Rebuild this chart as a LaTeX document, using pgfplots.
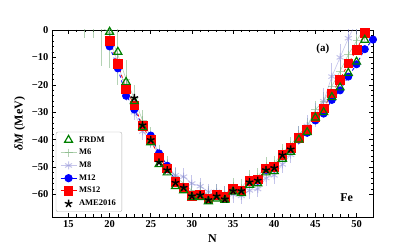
\documentclass[border=0pt]{standalone}
\usepackage{fontspec}
\setmainfont{Liberation Serif}
\usepackage{pgfplots}
\pgfplotsset{compat=1.18}
\definecolor{frdm}{RGB}{0,128,0}
\definecolor{msix}{RGB}{120,175,120}
\definecolor{meight}{RGB}{140,140,215}
\definecolor{mtw}{RGB}{0,0,255}
\definecolor{mstw}{RGB}{255,0,0}
\begin{document}
\begin{tikzpicture}
\begin{axis}[
  width=321pt, height=187pt, scale only axis,
  xmin=13, xmax=52, ymin=-68.2, ymax=0,
  xtick={15,20,...,50}, minor x tick num=4,
  ytick={-60,-50,-40,-30,-20,-10,0},
  yticklabels={−60,−50,−40,−30,−20,−10,0},
  minor y tick num=4,
  tick align=inside, major tick length=4pt, minor tick length=2.5pt,
  tick style={black, line width=0.6pt},
  axis line style={line width=0.8pt},
  /pgf/number format/assume math mode=true,
  ticklabel style={font=\bfseries\fontsize{10.5}{11}\selectfont},
  xlabel={N}, ylabel={\textit{δM} (MeV)},
  label style={font=\bfseries\fontsize{12}{12}\selectfont},
  legend style={at={(0.012,0.027)}, anchor=south west, draw=gray!60, rounded corners=2pt,
    font=\bfseries\fontsize{8.5}{10}\selectfont, row sep=1.6pt, inner xsep=4pt, inner ysep=2.5pt},
  legend cell align=left,
  legend image code/.code={\draw[mark repeat=2,mark phase=2,#1] plot coordinates {(0pt,0pt) (8pt,0pt) (16pt,0pt)};},
]
\addlegendimage{only marks, frdm, mark=triangle, mark size=4.6pt, mark options={line width=1.2pt}}
\addlegendentry{FRDM}
\addlegendimage{msix, opacity=0.55, line width=1pt, mark=+, mark size=4pt, mark options={line width=1pt}}
\addlegendentry{M6}
\addlegendimage{meight, opacity=0.5, line width=1pt, mark=asterisk, mark size=4pt, mark options={line width=1pt}}
\addlegendentry{M8}
\addlegendimage{mtw, line width=1pt, mark=*, mark size=3.6pt}
\addlegendentry{M12}
\addlegendimage{mstw, line width=1pt, mark=square*, mark size=4.3pt}
\addlegendentry{MS12}
\addlegendimage{only marks, black, mark=star, mark size=4pt, mark options={fill=black, line width=1.4pt}}
\addlegendentry{AME2016}
% M6
\addplot[forget plot, msix, opacity=0.55, line width=0.6pt, mark=+, mark size=4pt, mark options={line width=1pt},
  error bars/.cd, y dir=both, y explicit, error mark=none, error bar style={msix, line width=1pt}]
  coordinates {
  (17,4) +- (0,7) (18,4) +- (0,7) (19,1) +- (0,14) (20,-1) +- (0,13) (21,-9) +- (0,11)
  (22,-18) +- (0,7) (23,-25) +- (0,5) (24,-33) +- (0,4) (25,-39) +- (0,3.5) (26,-45) +- (0,3)
  (27,-49) +- (0,3) (28,-53.5) +- (0,3) (29,-56) +- (0,3) (30,-58.5) +- (0,3) (31,-58.5) +- (0,3)
  (32,-60) +- (0,3) (33,-59) +- (0,3) (34,-60) +- (0,3) (35,-57) +- (0,3) (36,-57.5) +- (0,3)
  (37,-54) +- (0,3) (38,-53.5) +- (0,3) (39,-49.5) +- (0,3) (40,-49) +- (0,3) (41,-44.5) +- (0,3)
  (42,-42) +- (0,3) (43,-38) +- (0,3) (44,-35) +- (0,3) (45,-29) +- (0,3) (46,-26) +- (0,3.5)
  (47,-20.5) +- (0,4) (48,-15) +- (0,4) (49,-9) +- (0,4.5) (50,-4) +- (0,5) (51,1) +- (0,5)
  };
% M8
\addplot[forget plot, meight, opacity=0.5, line width=0.6pt, mark=asterisk, mark size=4pt, mark options={line width=1pt},
  error bars/.cd, y dir=both, y explicit, error mark=none, error bar style={meight, line width=1pt}]
  coordinates {
  (20,-3) +- (0,4) (21,-12) +- (0,4) (22,-22) +- (0,4) (23,-30) +- (0,3) (24,-37) +- (0,3)
  (25,-40) +- (0,3) (26,-46) +- (0,3) (27,-50) +- (0,3) (28,-53) +- (0,3) (29,-53.5) +- (0,3)
  (30,-56) +- (0,3) (31,-57) +- (0,3) (32,-59) +- (0,3) (33,-59) +- (0,3) (34,-60) +- (0,3)
  (35,-60) +- (0,3) (36,-60.5) +- (0,3) (37,-58.5) +- (0,3) (38,-58) +- (0,3) (39,-54) +- (0,3)
  (40,-53) +- (0,3) (41,-49) +- (0,3) (42,-45.5) +- (0,3) (43,-38.5) +- (0,3.5) (44,-35) +- (0,4)
  (45,-31) +- (0,4.5) (46,-26) +- (0,5) (47,-17) +- (0,5) (48,-10) +- (0,5) (49,-3) +- (0,5)
  (50,3) +- (0,5)
  };
% M12
\addplot[forget plot, mtw, dashed, line width=0.8pt, mark=*, mark size=3.6pt, mark options={solid}]
  coordinates {
  (20,-6) (21,-14) (22,-24) (23,-29) (24,-35) (25,-38.5) (26,-45) (27,-49.5) (28,-55)
  (29,-58) (30,-60.5) (31,-60) (32,-61.5) (33,-60.5) (34,-61) (35,-58.5) (36,-59)
  (37,-55.5) (38,-55) (39,-51) (40,-50.5) (41,-46) (42,-43.5) (43,-40) (44,-37.5)
  (45,-33) (46,-30.5) (47,-25.5) (48,-22) (49,-17) (50,-12.5) (51,-7) (52,-3.5)
  };
% MS12
\addplot[forget plot, mstw, dashed, line width=0.8pt, mark=square*, mark size=4.4pt, mark options={solid}]
  coordinates {
  (20,-4) (21,-12.5) (22,-21.5) (23,-27.5) (24,-35) (25,-40) (26,-46.5) (27,-50.5) (28,-55.5)
  (29,-57.5) (30,-60.5) (31,-60) (32,-61.5) (33,-60) (34,-61) (35,-58) (36,-58.5)
  (37,-55) (38,-54.5) (39,-50.5) (40,-50) (41,-45.5) (42,-43) (43,-39.5) (44,-36.5)
  (45,-31.6) (46,-28.6) (47,-23.1) (48,-18.2) (49,-12.2) (50,-7.3) (51,-1.2)
  };
% FRDM
\addplot[forget plot, only marks, frdm, mark=triangle, mark size=4.6pt, mark options={line width=1.2pt}]
  coordinates {
  (20,-0.7) (21,-8) (22,-19) (23,-26) (24,-35.5) (25,-41) (26,-49) (27,-52) (28,-57)
  (29,-58.5) (30,-61) (31,-61) (32,-62.5) (33,-61.5) (34,-62) (35,-59) (36,-59.5)
  (37,-56.5) (38,-56) (39,-52) (40,-51.5) (41,-47) (42,-44.5) (43,-40) (44,-37.3)
  (45,-32) (46,-30) (47,-24.5) (48,-21) (49,-15.7) (50,-11.6) (51,-3.6)
  };
% AME2016
\addplot[forget plot, only marks, black, mark=star, mark size=4pt, mark options={fill=black, line width=1.4pt}]
  coordinates {
  (23,-24.8) (24,-34.7) (25,-40.1) (26,-48.3) (27,-51.1) (28,-55.7) (29,-57.5) (30,-60.6)
  (31,-60.2) (32,-62) (33,-60.6) (34,-61.7) (35,-58.7) (36,-58.7) (37,-55.5) (38,-54.9)
  (39,-51.1) (40,-50.3) (41,-45.6) (42,-43.5)
  };
\node[font=\bfseries\fontsize{11}{11}\selectfont] at (axis cs:45.9,-6.9) {(a)};
\node[font=\bfseries\fontsize{12}{12}\selectfont] at (axis cs:48.8,-61) {Fe};
\coordinate (SW) at (rel axis cs:0,0);
\coordinate (NE) at (rel axis cs:1,1);
\end{axis}
\pgfresetboundingbox
\path ([xshift=-52pt,yshift=-32pt]SW) rectangle ([xshift=42pt,yshift=30pt]NE);
\end{tikzpicture}
\end{document}
